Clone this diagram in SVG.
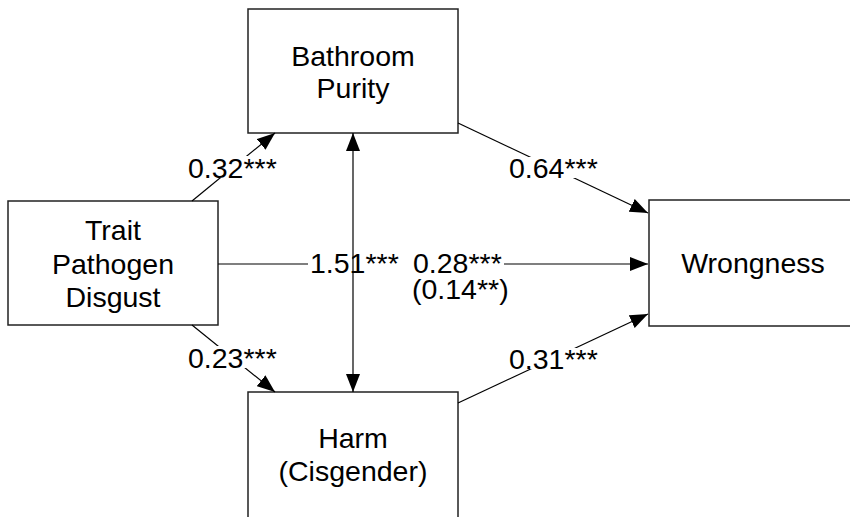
<svg xmlns="http://www.w3.org/2000/svg" width="850" height="517" viewBox="0 0 850 517">
  <style>
    .box { fill: #ffffff; stroke: #222222; stroke-width: 1.5; }
    .lbl { font-family: "Liberation Sans", Arial, sans-serif; font-size: 28.5px; fill: #000000; }
    .mid { text-anchor: middle; }
    .edge { fill: none; stroke: #000000; stroke-width: 1.2; }
    .bg { fill: #ffffff; stroke: none; }
  </style>
  <defs>
    <marker id="arrowEnd" markerUnits="userSpaceOnUse" markerWidth="18" markerHeight="14" refX="18" refY="7" orient="auto">
      <path d="M0,0 L18,7 L0,14 Z" fill="#000000"/>
    </marker>
    <marker id="arrowStart" markerUnits="userSpaceOnUse" markerWidth="18" markerHeight="14" refX="0" refY="7" orient="auto">
      <path d="M18,0 L0,7 L18,14 Z" fill="#000000"/>
    </marker>
  </defs>

  <rect width="850" height="517" fill="#ffffff"/>

  <!-- nodes -->
  <g id="node-purity">
    <rect class="box" x="248" y="9" width="210" height="124"/>
    <text class="lbl mid" x="353" y="66">Bathroom</text>
    <text class="lbl mid" x="353" y="98">Purity</text>
  </g>
  <g id="node-disgust">
    <rect class="box" x="8" y="201" width="210" height="124"/>
    <text class="lbl mid" x="113" y="240">Trait</text>
    <text class="lbl mid" x="113" y="274">Pathogen</text>
    <text class="lbl mid" x="113" y="307">Disgust</text>
  </g>
  <g id="node-harm">
    <rect class="box" x="248" y="392" width="210" height="135"/>
    <text class="lbl mid" x="353" y="448">Harm</text>
    <text class="lbl mid" x="353" y="481">(Cisgender)</text>
  </g>
  <g id="node-wrongness">
    <rect class="box" x="649" y="200" width="210" height="126"/>
    <text class="lbl mid" x="753" y="273">Wrongness</text>
  </g>

  <!-- connectors -->
  <g id="connectors">
    <!-- disgust -> purity -->
    <line class="edge" x1="192" y1="201" x2="275" y2="133" marker-end="url(#arrowEnd)"/>
    <rect class="bg" x="187" y="156" width="92" height="22"/>
    <text class="lbl" x="188" y="178">0.32***</text>

    <!-- disgust -> harm -->
    <line class="edge" x1="192" y1="325" x2="275" y2="392" marker-end="url(#arrowEnd)"/>
    <rect class="bg" x="187" y="346" width="92" height="22"/>
    <text class="lbl" x="188" y="368">0.23***</text>

    <!-- purity -> wrongness -->
    <line class="edge" x1="458" y1="123" x2="648" y2="213" marker-end="url(#arrowEnd)"/>
    <rect class="bg" x="508" y="157" width="92" height="21"/>
    <text class="lbl" x="509" y="178">0.64***</text>

    <!-- harm -> wrongness -->
    <line class="edge" x1="458" y1="403" x2="648" y2="314" marker-end="url(#arrowEnd)"/>
    <rect class="bg" x="508" y="348" width="92" height="21"/>
    <text class="lbl" x="509" y="369">0.31***</text>

    <!-- disgust -> wrongness (direct) -->
    <line class="edge" x1="218" y1="264" x2="648" y2="264" marker-end="url(#arrowEnd)"/>
    <rect class="bg" x="308" y="252" width="196" height="24"/>
    <text class="lbl" x="310" y="273">1.51***</text>
    <text class="lbl" x="413" y="273">0.28***</text>
    <text class="lbl" x="412" y="299">(0.14**)</text>

    <!-- purity <-> harm covariance -->
    <line class="edge" x1="353" y1="133" x2="353" y2="392" marker-start="url(#arrowStart)" marker-end="url(#arrowEnd)"/>
  </g>
</svg>
